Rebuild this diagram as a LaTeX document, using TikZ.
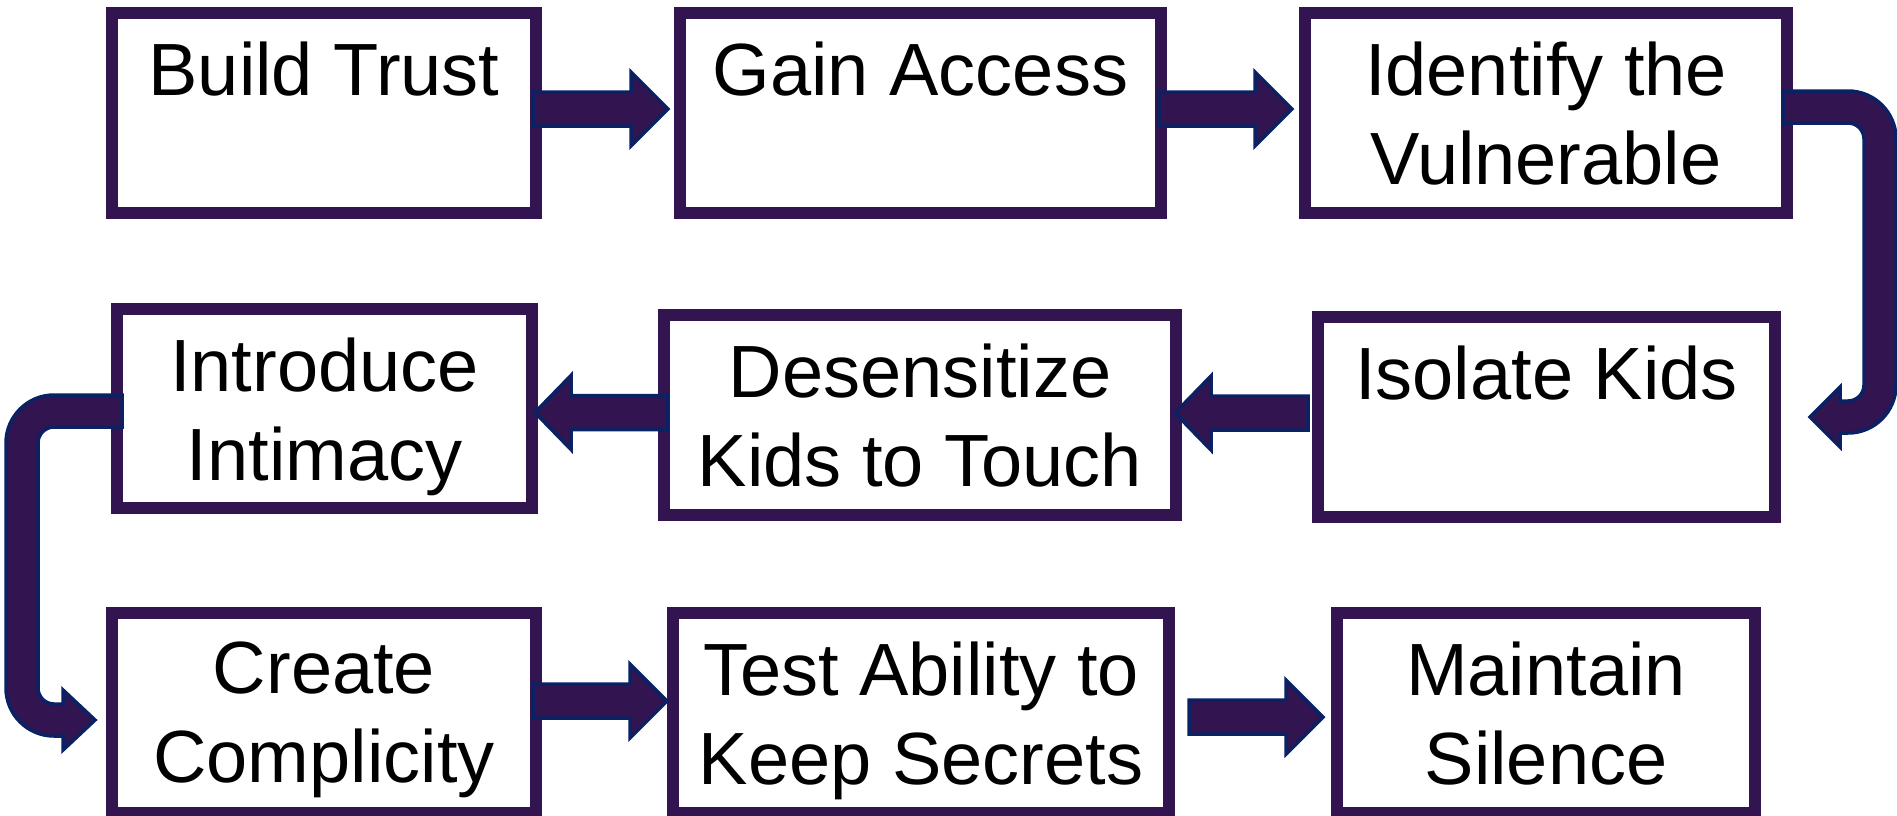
\documentclass[tikz,border=0pt]{standalone}
\usepackage{fontspec}
\setmainfont{Liberation Sans}
\usetikzlibrary{calc}
\definecolor{boxpurple}{RGB}{50,20,80}
\definecolor{arrnavy}{RGB}{10,34,100}
\tikzset{
  stepbox/.style={rectangle, draw=boxpurple, line width=12pt, fill=white, inner sep=0pt, outer sep=0pt},
  steptext/.style={anchor=north, inner sep=0pt, outer sep=0pt, align=center, font=\fontsize{74}{89}\selectfont},
  blk/.style={fill=boxpurple, draw=arrnavy, line width=3.5pt, line join=miter},
}
% straight block arrows: #1 start (x used), #2 tip
\newcommand\rarr[2]{\filldraw[blk] let \p1=#1, \p2=#2 in
  (\x1,\y2+17pt) -- (\x2-37pt,\y2+17pt) -- (\x2-37pt,\y2+37pt) -- (\x2,\y2)
  -- (\x2-37pt,\y2-37pt) -- (\x2-37pt,\y2-17pt) -- (\x1,\y2-17pt) -- cycle;}
\newcommand\larr[2]{\filldraw[blk] let \p1=#1, \p2=#2 in
  (\x1,\y2+17pt) -- (\x2+36pt,\y2+17pt) -- (\x2+36pt,\y2+37pt) -- (\x2,\y2)
  -- (\x2+36pt,\y2-37pt) -- (\x2+36pt,\y2-17pt) -- (\x1,\y2-17pt) -- cycle;}
\begin{document}
\begin{tikzpicture}[x=1pt,y=-1pt]
\useasboundingbox (0,0) rectangle (1897,816);
% boxes
\node[stepbox, minimum width=424pt, minimum height=200pt] (bt) at (324,113) {};
\node[stepbox, minimum width=481pt, minimum height=200pt] (ga) at (920.5,113) {};
\node[stepbox, minimum width=482pt, minimum height=200pt] (id) at (1546,113) {};
\node[stepbox, minimum width=415pt, minimum height=199pt] (intro) at (324.5,408.5) {};
\node[stepbox, minimum width=512pt, minimum height=200pt] (ds) at (920,415) {};
\node[stepbox, minimum width=457pt, minimum height=200pt] (iso) at (1546.5,417) {};
\node[stepbox, minimum width=424pt, minimum height=200pt] (cc) at (324,713) {};
\node[stepbox, minimum width=496pt, minimum height=200pt] (ta) at (921,713) {};
\node[stepbox, minimum width=418pt, minimum height=200pt] (ms) at (1546,713) {};
% texts
\node[steptext] (btt) at ($(bt.north)+(0,29)$) {Build Trust};
\node[steptext] (gat) at ($(ga.north)+(0,29)$) {Gain Access};
\node[steptext] (idt) at ($(id.north)+(0,29)$) {Identify the\\Vulnerable};
\node[steptext] (introt) at ($(intro.north)+(0,29)$) {Introduce\\Intimacy};
\node[steptext] (dst) at ($(ds.north)+(0,29)$) {Desensitize\\Kids to Touch};
\node[steptext] (isot) at ($(iso.north)+(0,29)$) {Isolate Kids};
\node[steptext] (cct) at ($(cc.north)+(0,29)$) {Create\\Complicity};
\node[steptext] (tat) at ($(ta.north)+(0,29)$) {Test Ability to\\Keep Secrets};
\node[steptext] (mst) at ($(ms.north)+(0,29)$) {Maintain\\Silence};
% straight arrows
\rarr{($(bt.east)+(-3,0)$)}{($(ga.west)+(-12,-4)$)}
\rarr{($(ga.east)+(-2,0)$)}{($(id.west)+(-13,-4)$)}
\larr{($(iso.west)+(-10,0)$)}{($(ds.east)+(-1,-2)$)}
\larr{($(ds.west)+(3,0)$)}{($(intro.east)+(3,4)$)}
\rarr{($(cc.east)+(-3,0)$)}{($(ta.west)+(-6,-12)$)}
\rarr{($(ta.east)+(20,0)$)}{($(ms.west)+(-14,4)$)}
% curved arrows
\coordinate (rs) at ($(id.east)+(-4,-6)$);
\coordinate (rt) at ($(iso.east)+(35,0)$);
\filldraw[blk] let \p1=(rs), \p2=(rt) in
  (\x1,\y1+16pt) -- (\x2+38pt,\y1+16pt) arc[start angle=90,end angle=0,radius=48pt]
  -- (\x2+86pt,\y2+32pt) arc[start angle=0,end angle=-90,radius=48pt]
  -- (\x2+30pt,\y2-16pt) -- (\x2+30pt,\y2-30pt) -- (\x2,\y2)
  -- (\x2+30pt,\y2+30pt) -- (\x2+30pt,\y2+16pt)
  -- (\x2+38pt,\y2+16pt) arc[start angle=-90,end angle=0,radius=16pt]
  -- (\x2+54pt,\y1-32pt) arc[start angle=0,end angle=90,radius=16pt]
  -- (\x1,\y1-16pt) -- cycle;
\coordinate (ls) at ($(intro.west)+(5,2.5)$);
\coordinate (lt) at ($(cc.west)+(-17,7)$);
\filldraw[blk] let \p1=(ls), \p2=(lt) in
  (\x1,\y1+16pt) -- (\x2-41pt,\y1+16pt) arc[start angle=90,end angle=180,radius=48pt]
  -- (\x2-89pt,\y2+32pt) arc[start angle=180,end angle=270,radius=48pt]
  -- (\x2-32pt,\y2-16pt) -- (\x2-32pt,\y2-30pt) -- (\x2,\y2)
  -- (\x2-32pt,\y2+30pt) -- (\x2-32pt,\y2+16pt)
  -- (\x2-41pt,\y2+16pt) arc[start angle=270,end angle=180,radius=16pt]
  -- (\x2-57pt,\y1-32pt) arc[start angle=180,end angle=90,radius=16pt]
  -- (\x1,\y1-16pt) -- cycle;
\end{tikzpicture}
\end{document}
